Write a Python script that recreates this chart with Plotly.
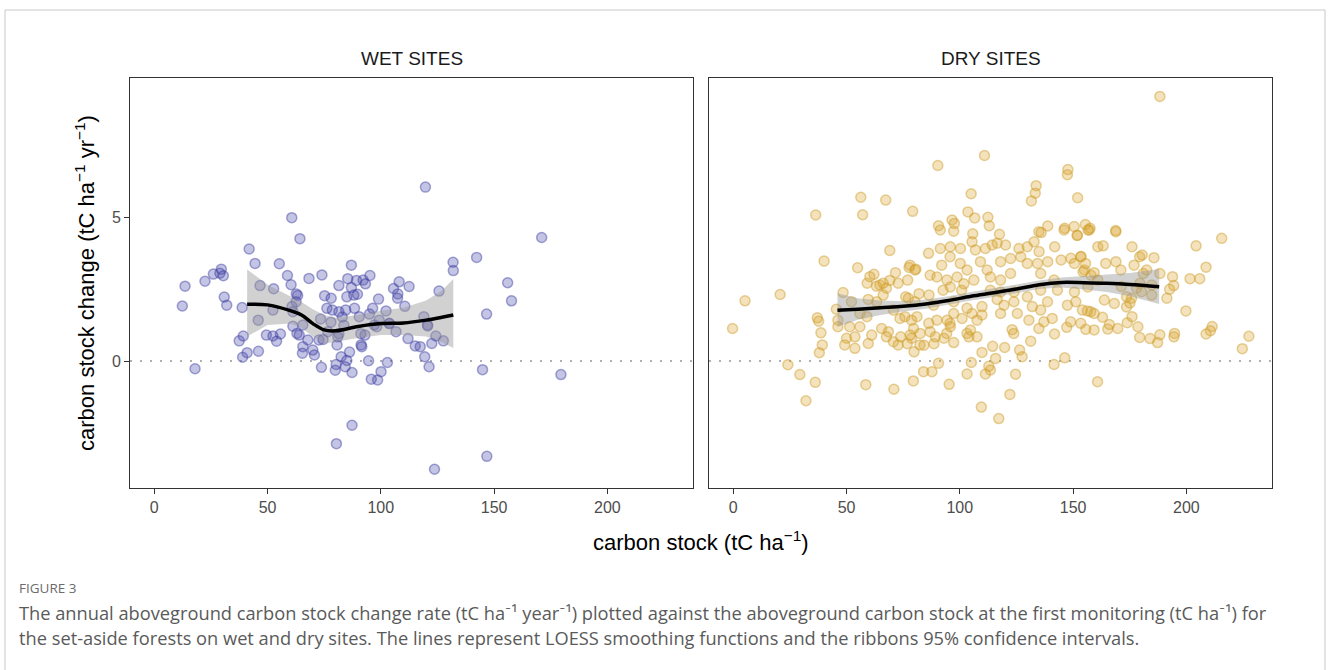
import plotly.graph_objects as go

# ---------------- data ----------------
wet_x = [60.7, 64.3, 41.9, 44.5, 55.2, 29.6, 26.1, 30.5, 29.0, 22.4, 13.6, 12.4, 30.9, 32.0, 38.8, 46.7, 52.7, 58.8, 60.4, 68.3,
         74.0, 87.0, 85.4, 81.5, 87.0, 85.0, 75.2, 78.1, 62.7, 63.3, 62.6, 60.8, 52.4, 45.9, 61.2, 65.6, 61.2, 76.2, 78.6, 81.5,
         84.5, 88.4, 73.4, 78.0, 83.0, 83.7, 89.3, 88.1,
         119.7, 171.0, 142.3, 131.9, 132.0, 156.0, 157.7, 146.7, 125.7, 92.2, 95.2, 93.2, 89.7, 108.1, 112.5, 105.6, 107.5, 107.4,
         99.0, 110.6, 96.4, 102.3, 95.0, 90.5, 119.0, 99.3, 103.7, 120.6, 97.1,
         18.0, 144.9, 179.5, 87.3, 80.4, 146.8, 123.7, 37.5, 39.3, 39.0, 41.0, 46.0, 49.5, 52.4, 54.0, 55.7, 63.0, 64.0, 67.8,
         65.6, 65.4, 70.0, 70.7, 72.7, 74.5, 73.8, 76.6, 80.7, 81.5, 82.5, 80.3, 79.9, 84.3, 85.0, 86.2, 87.3, 91.3, 91.6, 93.0,
         91.2, 94.6, 102.9, 100.1, 95.8, 98.6, 98.2, 103.8, 106.7, 112.0, 115.2, 117.4, 119.4, 121.3, 120.7, 122.5, 124.3, 127.6, 81.0]
wet_y = [4.98, 4.25, 3.89, 3.39, 3.38, 3.19, 3.02, 2.96, 3.05, 2.77, 2.60, 1.91, 2.22, 1.94, 1.86, 2.62, 2.51, 2.97, 2.65, 2.87,
         2.99, 3.33, 2.86, 2.62, 2.55, 2.23, 2.27, 2.18, 2.33, 2.28, 2.06, 1.89, 1.77, 1.42, 1.71, 1.25, 1.21, 1.83, 1.77, 1.71,
         1.77, 1.83, 1.46, 1.35, 1.53, 1.24, 2.80, 2.29,
         6.04, 4.29, 3.60, 3.43, 3.14, 2.72, 2.09, 1.63, 2.43, 2.81, 2.97, 2.68, 2.32, 2.75, 2.59, 2.52, 2.33, 2.18,
         2.15, 1.90, 1.83, 1.74, 1.63, 1.54, 1.54, 1.42, 1.31, 1.25, 1.25,
         -0.27, -0.30, -0.47, -2.23, -2.87, -3.31, -3.76, 0.70, 0.87, 0.13, 0.29, 0.34, 0.90, 0.87, 0.69, 0.94, 0.96, 0.90, 0.73,
         0.50, 0.27, 0.38, 0.21, 0.73, 0.75, -0.22, 1.02, 0.56, 0.95, 0.15, -0.12, -0.32, -0.20, 0.02, 0.31, -0.40, 0.56, 0.50, 0.90,
         0.95, 0.01, -0.05, -0.37, -0.63, -0.66, 1.19, 1.30, 1.02, 0.78, 0.52, 0.50, 0.15, -0.20, 1.22, 0.61, 0.87, 0.70, 0.84]

dry_x = [-0.3, 5.2, 20.7, 40.1, 69.1, 54.9, 24.1, 29.4, 36.2, 32.1, 58.5, 70.9, 79.5, 37.1, 37.7, 38.7, 39.3, 38.0, 48.5, 52.2,
         45.5, 46.2, 46.2, 50.0, 49.2, 53.7, 53.7, 51.4, 55.9, 55.9, 59.6, 59.6, 61.1, 59.1, 60.3, 62.1, 63.2, 64.7, 66.2, 67.6,
         63.3, 66.2, 69.1, 71.6, 72.8, 77.0, 77.6, 80.6, 70.7, 73.6, 75.8, 77.3, 80.2, 78.7, 65.5, 68.5, 67.6, 70.7, 72.8, 73.9,
         78.7, 79.8, 82.4, 59.0,
         95.3, 109.5, 117.2, 122.1, 124.6, 141.6, 146.3, 160.8, 84.0, 87.7, 103.2, 111.3, 113.5, 115.8, 112.8, 105.1, 109.8, 114.5,
         119.8, 126.4, 127.5, 131.3, 123.8, 123.1, 90.6, 97.3, 103.2, 107.6, 104.0, 93.0, 88.6, 84.2, 76.8, 86.9, 95.7, 94.2,
         134.9, 141.8, 147.2, 148.9, 137.1, 140.8, 155.6, 159.3, 154.1, 157.8, 151.2, 147.5, 138.7, 135.7, 130.5, 132.0, 125.4,
         118.0, 119.5, 123.9, 116.5, 109.8, 109.8, 105.4, 103.2, 107.6, 101.0, 97.3, 94.4, 95.8, 89.9, 86.3, 81.1, 79.6, 82.5,
         78.1, 89.2, 104.7,
         91.4, 134.9, 146.0, 151.9, 157.1, 86.2, 91.4, 95.8, 100.3, 105.4, 106.9, 111.3, 114.3, 116.5, 120.2, 126.1, 129.8, 132.8,
         135.0, 141.9, 149.0, 153.5, 160.9, 78.0, 80.2, 86.9, 92.0, 95.7, 100.2, 103.2, 109.1, 112.1, 118.0, 122.4, 126.9, 129.8,
         134.3, 138.8, 144.7, 150.6, 155.0, 89.9, 94.3, 98.8, 101.8, 106.2, 113.5, 118.0, 122.4, 135.7, 141.6, 157.9, 92.6, 95.8,
         100.8, 86.4, 82.0, 76.1, 88.4, 97.3, 113.5, 118.0, 123.9, 129.8, 135.7, 143.1, 150.6, 156.5, 160.9,
         110.9, 90.3, 147.7, 147.5, 133.7, 133.3, 131.6, 152.0, 105.0, 79.2, 90.6, 97.3, 96.6, 97.6, 103.6, 106.6, 112.4, 113.0,
         135.9, 138.8, 146.3, 150.5, 155.4, 157.5, 151.8, 105.7, 117.5,
         56.3, 67.3, 36.4, 57.1, 188.3, 168.8, 215.6,
         204.3, 208.7, 201.6, 205.9, 199.8, 211.4, 210.6, 208.7, 227.6, 224.7, 193.9, 194.4, 192.6, 191.4, 188.3, 194.8, 194.5,
         188.3, 187.3, 184.0, 179.4, 178.6, 173.9, 176.0, 169.7, 165.3, 166.0, 163.0, 159.3, 156.3, 153.4, 168.2, 163.8, 173.6,
         175.1, 175.8, 173.6, 171.3, 178.0, 179.5, 184.7, 180.2, 184.7, 182.5, 181.0, 179.4, 180.5, 176.9, 185.7, 176.0, 163.3,
         168.9, 164.4, 171.1, 159.3, 154.4, 153.4, 155.5, 168.9, 156.6]
dry_y = [1.13, 2.09, 2.31, 3.47, 3.84, 3.24, -0.13, -0.47, -0.74, -1.38, -0.82, -0.98, -0.69, 1.50, 1.38, 0.98, 0.56, 0.29, 2.38, 2.06,
         1.80, 1.42, 1.19, 0.79, 0.56, 0.44, 0.84, 1.19, 1.65, 1.19, 2.14, 0.61, 0.90, 2.70, 2.93, 3.01, 2.60, 2.64, 2.70, 2.53,
         2.06, 2.29, 2.80, 3.07, 2.70, 2.81, 3.25, 3.19, 1.77, 1.48, 1.54, 2.18, 2.06, 1.42, 1.13, 1.02, 0.84, 0.67, 0.56, 0.84,
         0.79, 0.32, 0.56, 1.54,
         -0.81, -1.60, -2.00, -1.16, -0.46, -0.12, 0.11, -0.72, -0.37, -0.37, -0.45, -0.45, -0.31, 0.09, -0.18, -0.05, 0.30, 0.51,
         0.47, 0.38, 0.15, 0.69, 0.96, 1.09, -0.08, 0.64, 0.96, 0.84, 0.84, 0.79, 0.60, 0.55, 0.60, 1.02, 1.31, 0.96,
         1.13, 0.94, 1.17, 1.36, 1.36, 1.48, 1.10, 1.08, 1.77, 1.71, 2.06, 1.94, 2.06, 1.77, 1.42, 1.89, 1.65,
         1.65, 1.94, 2.06, 2.14, 1.89, 1.60, 1.65, 1.83, 1.42, 1.48, 1.65, 1.42, 1.19, 1.42, 1.31, 1.54, 1.13, 0.96,
         0.90, 0.84, 1.08,
         4.55, 4.49, 4.55, 4.37, 4.55, 3.74, 3.91, 3.97, 3.91, 4.14, 3.86, 3.91, 4.03, 4.09, 4.03, 3.91, 3.97, 4.14,
         3.80, 3.97, 3.57, 3.63, 3.97, 3.33, 3.16, 2.98, 3.33, 3.62, 3.39, 3.16, 3.45, 3.16, 3.45, 3.56, 3.62, 3.39,
         3.39, 3.45, 3.51, 3.39, 3.16, 2.92, 2.81, 2.92, 2.68, 2.81, 2.92, 2.81, 3.04, 3.04, 2.81, 2.98, 2.46, 2.57,
         2.46, 2.29, 2.34, 2.23, 1.94, 2.06, 2.46, 2.40, 2.40, 2.23, 2.46, 2.46, 2.40, 2.57, 2.81,
         7.14, 6.79, 6.65, 6.47, 6.09, 5.83, 5.56, 5.67, 5.81, 5.20, 4.70, 4.51, 4.90, 4.78, 5.18, 4.97, 4.99, 4.70,
         4.46, 4.69, 4.61, 4.67, 4.74, 4.61, 4.36, 4.42, 4.40,
         5.69, 5.59, 5.07, 5.08, 9.19, 4.53, 4.26,
         4.00, 3.26, 2.86, 2.86, 1.74, 1.20, 1.05, 0.94, 0.86, 0.43, 2.93, 2.62, 2.49, 2.18, 3.04, 0.96, 0.84,
         0.91, 0.64, 0.78, 0.82, 1.19, 1.33, 1.54, 1.13, 1.11, 1.27, 1.52, 1.65, 1.74, 1.31, 2.00, 2.12, 1.88,
         2.02, 2.18, 2.23, 2.59, 2.53, 2.70, 2.29, 2.41, 2.64, 3.16, 3.04, 3.62, 3.68, 3.33, 3.59, 3.97, 4.00,
         3.45, 3.39, 3.16, 3.07, 3.10, 3.62, 3.39, 4.49, 4.55]

# LOESS curves and 95% ribbons
wet_fit_x = [41, 50, 60, 65, 70, 75, 80, 90, 100, 110, 120, 127, 132]
wet_fit_y = [1.97, 1.95, 1.75, 1.60, 1.30, 1.08, 1.05, 1.20, 1.30, 1.32, 1.42, 1.52, 1.60]
wet_fit_lo = [0.85, 1.25, 1.30, 1.15, 0.85, 0.60, 0.65, 0.80, 0.90, 0.90, 0.85, 0.65, 0.45]
wet_fit_hi = [3.18, 2.65, 2.25, 2.05, 1.80, 1.60, 1.50, 1.60, 1.75, 1.85, 2.10, 2.45, 2.85]

dry_fit_x = [46, 55, 65, 75, 85, 95, 105, 115, 125, 135, 145, 155, 165, 175, 188]
dry_fit_y = [1.76, 1.80, 1.85, 1.90, 1.98, 2.10, 2.25, 2.37, 2.50, 2.65, 2.73, 2.72, 2.70, 2.66, 2.58]
dry_fit_lo = [1.18, 1.43, 1.60, 1.72, 1.82, 1.95, 2.10, 2.22, 2.35, 2.50, 2.55, 2.48, 2.40, 2.25, 1.98]
dry_fit_hi = [2.35, 2.18, 2.10, 2.08, 2.14, 2.25, 2.40, 2.52, 2.66, 2.80, 2.90, 2.95, 3.00, 3.06, 3.20]

x_ticks = [0, 50, 100, 150, 200]
y_ticks = [0, 5]
panel_titles = ["WET SITES", "DRY SITES"]

# ---------------- figure ----------------
W, H = 1330, 670
def px(x):
    return x / W
def py(y):
    return 1 - y / H

fig = go.Figure()

wet_col = "rgba(70,70,170,0.32)"
wet_edge = "rgba(60,60,160,0.45)"
dry_col = "rgba(218,165,45,0.32)"
dry_edge = "rgba(205,155,40,0.45)"

panels = [
    ("x", "y", wet_x, wet_y, wet_col, wet_edge, wet_fit_x, wet_fit_y, wet_fit_lo, wet_fit_hi),
    ("x2", "y2", dry_x, dry_y, dry_col, dry_edge, dry_fit_x, dry_fit_y, dry_fit_lo, dry_fit_hi),
]
for xa, ya, xs, ys, col, edge, fx, fy, flo, fhi in panels:
    fig.add_trace(go.Scatter(x=xs, y=ys, mode="markers", xaxis=xa, yaxis=ya,
                             marker=dict(size=10, color=col, line=dict(color=edge, width=1.5)),
                             showlegend=False, hoverinfo="x+y"))
    fig.add_trace(go.Scatter(x=fx + fx[::-1], y=fhi + flo[::-1], mode="lines", fill="toself",
                             fillcolor="rgba(153,153,153,0.45)", line=dict(width=0),
                             xaxis=xa, yaxis=ya, showlegend=False, hoverinfo="skip"))
    fig.add_trace(go.Scatter(x=fx, y=fy, mode="lines", line=dict(color="black", width=3.5, shape="spline"),
                             xaxis=xa, yaxis=ya, showlegend=False))

xr = [-10.7, 237.8]
yr = [-4.41, 9.83]
axis_common = dict(showgrid=False, zeroline=False, showline=True, linecolor="#333333", linewidth=1,
                   mirror=True, ticks="outside", ticklen=5, tickcolor="#333333", tickwidth=1,
                   tickfont=dict(family="Liberation Sans, Arial, sans-serif", size=16, color="#4d4d4d"))

fig.update_layout(
    width=W, height=H, margin=dict(l=0, r=0, t=0, b=0),
    paper_bgcolor="white", plot_bgcolor="white",
    xaxis=dict(domain=[px(130), px(693)], range=xr, tickvals=x_ticks, anchor="y", **axis_common),
    xaxis2=dict(domain=[px(709), px(1272)], range=xr, tickvals=x_ticks, anchor="y2", **axis_common),
    yaxis=dict(domain=[py(488), py(78)], range=yr, tickvals=y_ticks, anchor="x", **axis_common),
    yaxis2=dict(domain=[py(488), py(78)], range=yr, tickvals=y_ticks, anchor="x2", matches="y",
                **{**axis_common, "showticklabels": False, "ticks": ""}),
)

for xa, ya in [("x", "y"), ("x2", "y2")]:
    fig.add_shape(type="line", xref=f"{xa} domain", yref=ya, x0=0, x1=1, y0=0, y1=0,
                  line=dict(color="#b0b0b0", width=2, dash="2px,8px"), layer="below")

# outer frame
fig.add_shape(type="rect", xref="paper", yref="paper", x0=px(5), x1=px(1325), y0=py(700), y1=py(10),
              line=dict(color="#c8c8c8", width=1))

def label(x, y, text, size, color, family, xanchor="center", angle=0):
    fig.add_annotation(x=px(x), y=py(y), xref="paper", yref="paper", text=text, showarrow=False,
                       xanchor=xanchor, yanchor="middle", textangle=angle,
                       font=dict(family=family, size=size, color=color))

font_main = "Liberation Sans, Arial, sans-serif"
label(411.5, 58, panel_titles[0], 19, "#1a1a1a", font_main)
label(990.5, 58, panel_titles[1], 19, "#1a1a1a", font_main)
label(701, 541, "carbon stock (tC ha<sup>−1</sup>)", 22, "black", font_main)
label(85, 283, "carbon stock change (tC ha<sup>−1</sup> yr<sup>−1</sup>)", 22, "black", font_main, angle=-90)

cap_font = "Open Sans, Lato, sans-serif"
label(17, 588, "FIGURE 3", 13.5, "#6b6b6b", cap_font, xanchor="left")
label(17, 612, "The annual aboveground carbon stock change rate (tC ha⁻¹ year⁻¹) plotted against the aboveground carbon stock at the first monitoring (tC ha⁻¹) for",
      18.25, "#5a5a5a", cap_font, xanchor="left")
label(17, 637, "the set-aside forests on wet and dry sites. The lines represent LOESS smoothing functions and the ribbons 95% confidence intervals.",
      18.25, "#5a5a5a", cap_font, xanchor="left")

fig.write_html("out.html")
